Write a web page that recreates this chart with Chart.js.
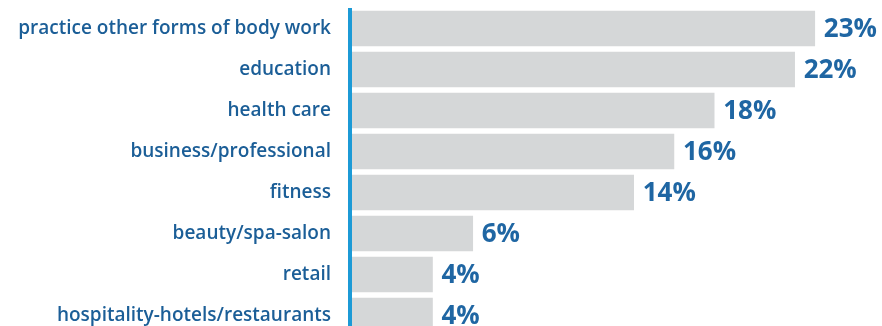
<!DOCTYPE html>
<html>
<head>
<meta charset="utf-8">
<script src="https://cdn.jsdelivr.net/npm/chart.js@4/dist/chart.umd.min.js"></script>
<style>
  html, body { margin: 0; padding: 0; background: #ffffff; overflow: hidden; }
  #wrap { width: 882px; height: 336px; }
</style>
</head>
<body>
<div id="wrap"><canvas id="chart" width="882" height="336"></canvas></div>
<script>
// Share of respondents by other work area (percent)
const categories = [
  "practice other forms of body work",
  "education",
  "health care",
  "business/professional",
  "fitness",
  "beauty/spa-salon",
  "retail",
  "hospitality-hotels/restaurants"
];
const percentValues = [23, 22, 18, 16, 14, 6, 4, 4];

const labelBlue = "#1b5e97";
const valueBlue = "#1f66a3";
const axisBlue = "#1c9ad6";
const barGray = "#d5d7d8";

// Vertical rule along the category axis, just left of the bars
const axisRule = {
  id: "axisRule",
  beforeDatasetsDraw(chart) {
    const { ctx, chartArea } = chart;
    ctx.save();
    ctx.fillStyle = axisBlue;
    ctx.fillRect(chartArea.left - 4, chartArea.top, 4, chartArea.bottom - chartArea.top);
    ctx.restore();
  }
};

// Draws the percentage at the end of each bar
const valueLabels = {
  id: "valueLabels",
  afterDatasetsDraw(chart) {
    const ctx = chart.ctx;
    const meta = chart.getDatasetMeta(0);
    ctx.save();
    ctx.fillStyle = valueBlue;
    ctx.font = "bold 26px 'Open Sans', sans-serif";
    ctx.textAlign = "left";
    ctx.textBaseline = "middle";
    meta.data.forEach((bar, i) => {
      ctx.fillText(percentValues[i] + "%", bar.x + 9, bar.y + 1);
    });
    ctx.restore();
  }
};

new Chart(document.getElementById("chart"), {
  type: "bar",
  data: {
    labels: categories,
    datasets: [{
      data: percentValues,
      backgroundColor: barGray,
      borderWidth: 0,
      barThickness: 35
    }]
  },
  options: {
    indexAxis: "y",
    responsive: false,
    animation: false,
    layout: { autoPadding: false, padding: { top: 8, right: 27, bottom: 0, left: 0 } },
    plugins: {
      legend: { display: false },
      tooltip: { enabled: false }
    },
    scales: {
      x: {
        min: 0,
        max: 25,
        display: false,
        grid: { display: false }
      },
      y: {
        grid: { display: false, drawTicks: false },
        border: { display: false },
        ticks: {
          color: labelBlue,
          padding: 21,
          font: { family: "'Open Sans', sans-serif", size: 19, weight: "600" }
        },
        afterFit(scale) {
          scale.width = 352;
          scale.paddingTop = 0;
          scale.paddingBottom = 0;
        }
      }
    }
  },
  plugins: [axisRule, valueLabels]
});
</script>
</body>
</html>
